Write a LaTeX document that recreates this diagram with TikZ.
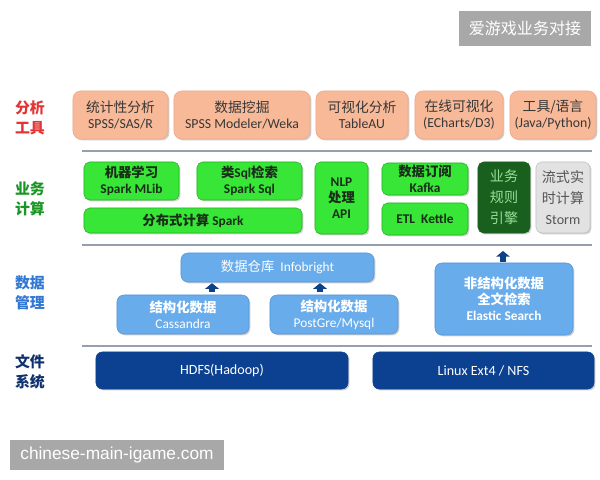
\documentclass[tikz,border=0pt]{standalone}
\usepackage{fontspec}
\setmainfont{Carlito}
\newfontfamily\cjk{Noto Sans CJK SC}
\newfontfamily\wmfont{Liberation Sans}
\usetikzlibrary{arrows.meta,shadows}
\definecolor{toolfill}{RGB}{248,185,152}
\definecolor{tooldraw}{RGB}{238,168,135}
\definecolor{tooltext}{RGB}{55,55,55}
\definecolor{calcfill}{RGB}{55,230,55}
\definecolor{calcdraw}{RGB}{35,180,35}
\definecolor{calctext}{RGB}{25,45,25}
\definecolor{rulefill}{RGB}{25,95,30}
\definecolor{ruletext}{RGB}{150,225,150}
\definecolor{stormfill}{RGB}{226,226,226}
\definecolor{stormtext}{RGB}{85,85,85}
\definecolor{datafill}{RGB}{105,172,235}
\definecolor{datadraw}{RGB}{85,150,220}
\definecolor{fsfill}{RGB}{12,65,145}
\definecolor{arrowblue}{RGB}{15,65,135}
\definecolor{seplight}{RGB}{150,160,172}
\definecolor{labred}{RGB}{228,52,52}
\definecolor{labgreen}{RGB}{25,150,35}
\definecolor{labblue}{RGB}{50,120,210}
\definecolor{labnavy}{RGB}{15,50,110}
\definecolor{wmgray}{RGB}{168,168,168}

\begin{document}
\begin{tikzpicture}[x=0.025cm,y=-0.025cm,
      lay/.style={align=center,font=\cjk\bfseries\fontsize{10.6}{14}\selectfont},
      shade/.style={drop shadow={shadow xshift=1pt,shadow yshift=-1pt,opacity=0.3,fill=black!60}},
      tool/.style={fill=toolfill,draw=tooldraw,rounded corners=5.5pt,inner sep=0pt,shade,
        minimum height=1.2cm,align=center,text=tooltext,font=\fontsize{9.8}{11.5}\selectfont},
      calc/.style={fill=calcfill,draw=calcdraw,rounded corners=4pt,inner sep=0pt,shade,
        align=center,text=calctext,font=\bfseries\fontsize{9.5}{11.5}\selectfont},
      data/.style={fill=datafill,draw=datadraw,rounded corners=5pt,inner sep=0pt,shade,
        align=center,text=white,font=\fontsize{9.5}{11.5}\selectfont},
      fs/.style={fill=fsfill,draw=fsfill,rounded corners=4.5pt,inner sep=0pt,shade,
        minimum height=0.925cm,align=center,text=white,font=\fontsize{10}{12}\selectfont},
      sep/.style={seplight,line width=1.1pt},
      up/.style={-{Triangle[length=4pt,width=9.5pt]},line width=3.6pt,arrowblue},
      wm/.style={fill=wmgray,inner sep=0pt,text=white}]
    \useasboundingbox[fill=white] (0,0) rectangle (600,480);
    % layer titles
    \node[lay,text=labred] (ltool) at (30,118) {分析\\工具};
    \node[lay,text=labgreen] (lcalc) at (30,199) {业务\\计算};
    \node[lay,text=labblue] (ldata) at (30,293) {数据\\管理};
    \node[lay,text=labnavy] (lfs) at (30,372) {文件\\系统};
    % separators
    \draw[sep] (82,151) -- (592,151);
    \draw[sep] (82,245) -- (592,245);
    \draw[sep] (82,346) -- (592,346);
    % analysis tools
    \node[tool,minimum width=2.375cm] (stat) at (120.5,115) {{\cjk 统计性分析}\\SPSS/SAS/R};
    \node[tool,minimum width=3.4cm] (mine) at (242,115) {{\cjk 数据挖掘}\\SPSS Modeler/Weka};
    \node[tool,minimum width=2.3cm] (vis) at (362,115) {{\cjk 可视化分析}\\TableAU};
    \node[tool,minimum width=2.2cm] (online) at (459,115) {{\cjk 在线可视化}\\(ECharts/D3)};
    \node[tool,minimum width=2.15cm] (lang) at (553,115) {{\cjk 工具/语言}\\(Java/Python)};
    % business computing
    \node[calc,minimum width=2.375cm,minimum height=0.95cm] (ml) at (131.5,181) {{\cjk 机器学习}\\Spark MLib};
    \node[calc,minimum width=2.625cm,minimum height=0.95cm] (sql) at (249.5,181) {{\cjk 类}Sql{\cjk 检索}\\Spark Sql};
    \node[calc,minimum width=5.45cm,minimum height=0.625cm] (spark) at (193,220.5) {{\cjk 分布式计算} Spark};
    \node[calc,minimum width=1.325cm,minimum height=1.8cm] (nlp) at (341.5,198) {NLP\\{\cjk 处理}\\API};
    \node[calc,minimum width=2.15cm,minimum height=0.8cm] (kafka) at (425,179) {{\cjk 数据订阅}\\Kafka};
    \node[calc,minimum width=2.15cm,minimum height=0.8cm] (etl) at (425,219) {ETL~~Kettle};
    \node[calc,minimum width=1.3cm,minimum height=1.775cm,fill=rulefill,draw=rulefill,text=ruletext,
      font=\cjk\fontsize{10}{15}\selectfont] (rule) at (504,197.5) {业务\\规则\\引擎};
    \node[calc,minimum width=1.35cm,minimum height=1.775cm,fill=stormfill,draw=stormfill!85!black,
      text=stormtext,font=\fontsize{10}{15}\selectfont] (storm) at (563,197.5) {{\cjk 流式实}\\{\cjk 时计算}\\Storm};
    % data management
    \node[data,minimum width=4.825cm,minimum height=0.725cm] (ware) at (277.5,267.5) {{\cjk 数据仓库}~~Infobright};
    \node[data,minimum width=3.3cm,minimum height=0.975cm] (cass) at (183,314.5) {{\cjk\bfseries 结构化数据}\\Cassandra};
    \node[data,minimum width=3.2cm,minimum height=0.975cm] (pg) at (334,314.5) {{\cjk\bfseries 结构化数据}\\PostGre/Mysql};
    \node[data,minimum width=3.45cm,minimum height=1.8cm,font=\bfseries\fontsize{9.5}{11.5}\selectfont] (es)
      at (504,299) {{\cjk 非结构化数据}\\{\cjk 全文检索}\\Elastic Search};
    % file systems
    \node[fs,minimum width=6.3cm] (hdfs) at (222,370.5) {HDFS(Hadoop)};
    \node[fs,minimum width=5.525cm] (linux) at (483.5,370.5) {Linux Ext4 / NFS};
    % arrows
    \coordinate (ca) at (212,0);
    \coordinate (pa) at (320,0);
    \coordinate (etop) at (503,251);
    \draw[up,shorten <=2pt,shorten >=0.6pt] (ca |- cass.north) -- (ca |- ware.south);
    \draw[up,shorten <=2pt,shorten >=0.6pt] (pa |- pg.north) -- (pa |- ware.south);
    \draw[up,shorten <=0.6pt] (etop |- es.north) -- (etop);
    % watermarks
    \node[wm,minimum width=3.3cm,minimum height=0.875cm,font=\cjk\fontsize{11.4}{13}\selectfont] (wmtop)
      at (525,28.5) {爱游戏业务对接};
    \node[wm,minimum width=5.35cm,minimum height=0.75cm,font=\wmfont\fontsize{12.3}{14}\selectfont] (wmbot)
      at (117,455) {chinese-main-igame.com};
  \end{tikzpicture}
\end{document}
